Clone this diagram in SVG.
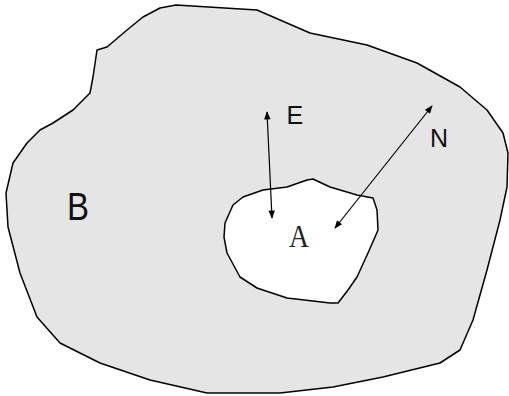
<svg xmlns="http://www.w3.org/2000/svg" width="509" height="396" viewBox="0 0 509 396">
<defs>
<style>
.region{stroke:#000;stroke-width:1.5;stroke-linejoin:round}
.conn{stroke:#000;stroke-width:1.2;fill:none}
.sans{font-family:"Liberation Sans",Arial,sans-serif;fill:#111}
.serif{font-family:"Liberation Serif","Times New Roman",serif;fill:#222}
</style>
<marker id="ah" viewBox="0 0 10 8" refX="9" refY="4" markerWidth="10" markerHeight="6.5" markerUnits="userSpaceOnUse" orient="auto-start-reverse">
<path d="M0,0 L10,4 L0,8 Z" fill="#000"/>
</marker>
</defs>
<rect width="509" height="396" fill="#fff"/>
<g id="B">
<path class="region" fill="#e5e5e5" d="M176,5 L257,10 L310,33 L367,45 L417,63 L460,87 L487,110 L503,133 L508,153 L507,187 L500,220 L487,270 L473,320 L460,350 L440,363 L383,377 L333,387 L280,393 L207,393 L150,380 L100,363 L60,343 L37,317 L20,273 L8,227 L6,193 L13,163 L27,143 L40,130 L53,123 L73,110 L90,93 L93,77 L97,50 L107,47 L127,30 L143,17 L160,8 Z"/>
<text class="sans" x="67" y="220" font-size="39" textLength="22" lengthAdjust="spacingAndGlyphs">B</text>
</g>
<g id="A">
<path class="region" fill="#fff" d="M313,179 L330,187 L357,195 L373,198 L377,210 L378,230 L375,237 L368,253 L357,277 L348,290 L338,303 L330,303 L313,301 L287,298 L257,288 L240,277 L227,253 L224,237 L225,223 L233,205 L243,197 L263,190 L287,187 L307,180 Z"/>
<text class="serif" x="289" y="247" font-size="32" textLength="20" lengthAdjust="spacingAndGlyphs">A</text>
</g>
<g id="connectors">
<line class="conn" x1="267" y1="112" x2="272" y2="218" marker-start="url(#ah)" marker-end="url(#ah)"/>
<line class="conn" x1="432" y1="106" x2="335" y2="228" marker-start="url(#ah)" marker-end="url(#ah)"/>
</g>
<g id="labels">
<text class="sans" x="286.5" y="124" font-size="25">E</text>
<text class="sans" x="430" y="147" font-size="25">N</text>
</g>
</svg>
